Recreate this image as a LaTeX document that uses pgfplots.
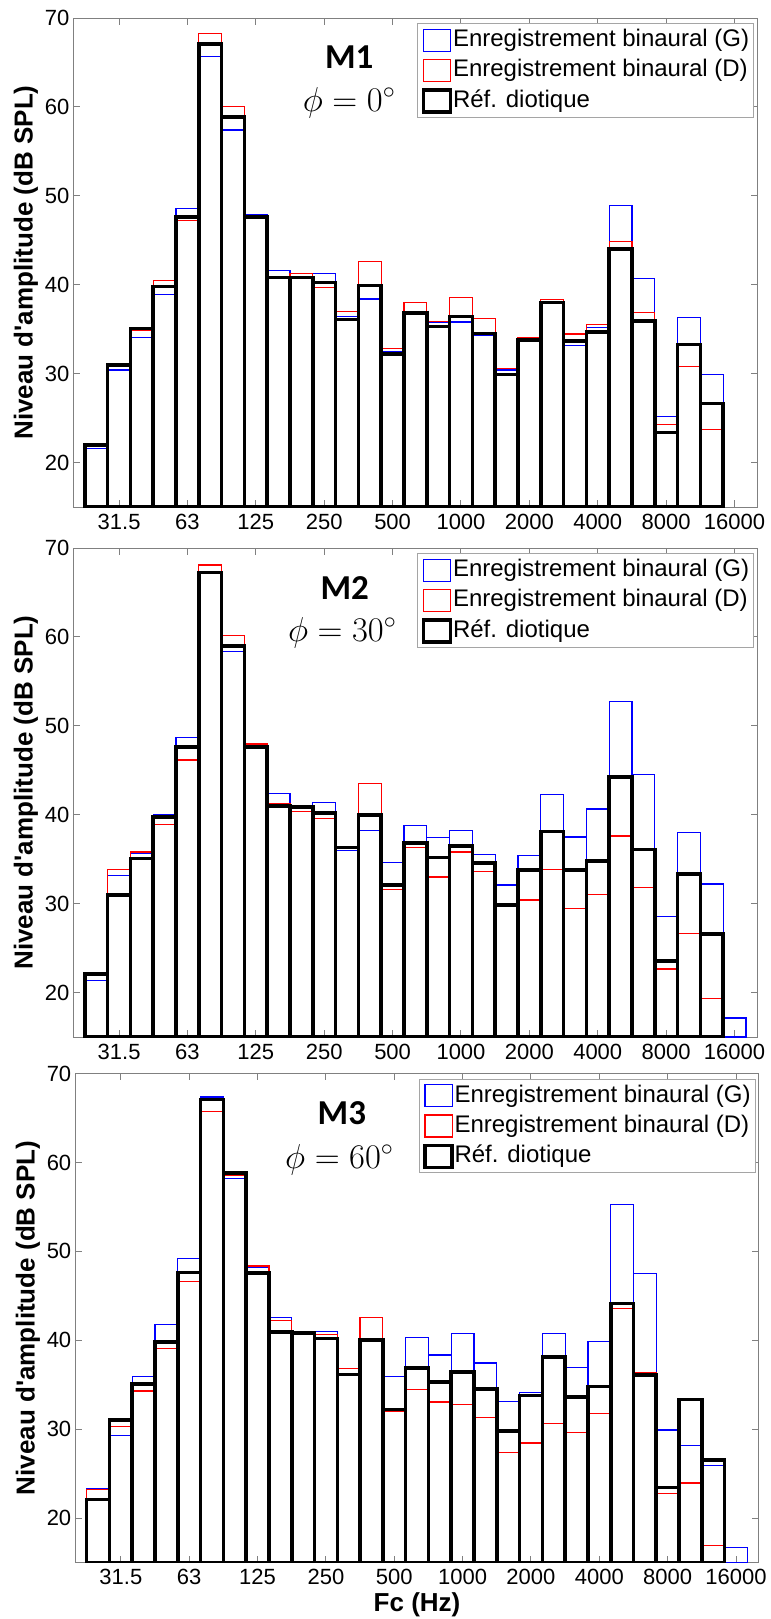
\documentclass[border=0pt]{standalone}
\usepackage{fontspec}
\setmainfont{Liberation Sans}
\newfontfamily\labfont{Liberation Sans}[Ligatures=TeXOff]
\newfontfamily\calfont{Carlito}
\usepackage{pgfplots}
\usepackage{pgfplotstable}
\pgfplotsset{compat=1.18}

\definecolor{axgray}{RGB}{128,128,128}
\definecolor{leggray}{RGB}{165,165,165}
\definecolor{mblue}{RGB}{0,0,255}
\definecolor{mred}{RGB}{255,0,0}

% third-octave bands: index 0 = 25 Hz ... 28 = 16 kHz
% G = binaural left, D = binaural right, R = diotic reference
\pgfplotstableread{
i  G      D      R
0  21.6   22.0   22.0
1  30.4   31.1   31.0
2  34.1   34.9   35.1
3  38.9   40.5   39.8
4  48.6   47.2   47.6
5  65.7   68.3   67.1
6  57.4   60.05  58.9
7  47.9   47.5   47.65
8  41.6   40.9   40.8
9  40.8   41.3   40.8
10 41.3   39.7   40.25
11 36.4   37.0   36.1
12 38.4   42.6   39.9
13 32.5   32.8   32.2
14 36.8   38.0   36.8
15 35.75  35.85  35.3
16 35.8   38.6   36.45
17 34.3   36.2   34.5
18 30.4   30.6   29.9
19 34.1   34.0   33.8
20 37.9   38.3   38.0
21 33.2   34.45  33.65
22 35.2   35.5   34.7
23 48.95  44.9   44.05
24 40.7   36.9   35.95
25 25.2   24.3   23.4
26 36.3   30.8   33.3
27 29.9   23.75  26.65
}\dataA

\pgfplotstableread{
i  G      D      R
0  21.4   22.0   22.1
1  33.2   33.8   31.0
2  35.7   35.8   35.1
3  40.05  38.9   39.75
4  48.65  46.15  47.65
5  67.2   68.1   67.25
6  58.4   60.15  58.95
7  47.85  47.95  47.65
8  42.4   41.3   41.0
9  40.7   40.35  40.85
10 41.35  39.6   40.2
11 36.0   36.2   36.3
12 38.25  43.5   40.0
13 34.6   31.6   32.1
14 38.75  36.35  36.85
15 37.4   33.0   35.2
16 38.25  35.8   36.5
17 35.55  33.6   34.55
18 32.1   29.9   29.85
19 35.4   30.4   33.8
20 42.3   33.85  38.1
21 37.5   29.45  33.8
22 40.65  31.0   34.8
23 52.75  37.6   44.25
24 44.5   31.8   36.1
25 28.6   22.65  23.55
26 38.0   26.6   33.35
27 32.2   19.3   26.6
28 17.15  nan    nan
}\dataB

\pgfplotstableread{
i  G      D      R
0  23.35  23.2   22.1
1  29.3   30.3   31.0
2  35.95  34.3   35.1
3  41.8   39.05  39.8
4  49.2   46.65  47.6
5  67.35  65.7   67.1
6  58.15  58.55  58.8
7  48.2   48.35  47.55
8  42.6   42.25  40.9
9  40.8   40.8   40.8
10 41.0   40.65  40.2
11 36.8   36.85  36.15
12 40.0   42.6   40.0
13 35.95  32.0   32.2
14 40.3   34.45  36.9
15 38.35  33.05  35.3
16 40.8   32.75  36.45
17 37.45  31.3   34.5
18 33.15  27.4   29.8
19 34.15  28.45  33.8
20 40.8   30.65  38.1
21 36.9   29.6   33.65
22 39.85  31.8   34.8
23 55.3   43.55  44.15
24 47.5   36.35  36.1
25 29.9   22.75  23.45
26 28.2   23.95  33.35
27 25.95  16.9   26.55
28 16.7   nan    nan
}\dataC

\pgfplotsset{
  panel/.style={
    scale only axis, width=341.9pt, height=244.5pt,
    xmin=-1, xmax=29, ymin=15, ymax=70,
    xtick={1,4,...,28},
    xticklabels={31.5,63,125,250,500,1000,2000,4000,8000,16000},
    ytick={20,30,...,70},
    tick align=inside, major tick length=3.3pt,
    axis line style={axgray, line width=0.5pt},
    tick style={axgray, line width=0.5pt},
    tick label style={font=\fontsize{11}{12}\selectfont, black},
    yticklabel style={xshift=1.5pt},
    /pgf/number format/assume math mode=true,
    ylabel={\labfont\bfseries Niveau d'amplitude (dB SPL)},
    ylabel style={font=\fontsize{13}{15}\selectfont, at={(axis description cs:-0.0695,0.5)}, anchor=center},
    legend cell align=left,
    legend style={at={(0.9955,0.989)}, anchor=north east, draw=leggray, line width=0.5pt,
      font=\fontsize{12}{14}\selectfont, inner xsep=2pt, inner ysep=0.5pt, row sep=0pt,
      nodes={inner xsep=0.3pt, inner ysep=1pt, text height=9.8pt, text depth=3.4pt}},
  },
  bars/.style={ybar, bar width=1, bar shift=0pt, fill=none},
  serG/.style={bars, draw=mblue, line width=0.6pt,
    legend image code/.code={\draw[mblue, line width=0.6pt] (0pt,-5.5pt) rectangle (13.5pt,5.5pt);}},
  serD/.style={bars, draw=mred, line width=0.6pt,
    legend image code/.code={\draw[mred, line width=0.6pt] (0pt,-5.5pt) rectangle (13.5pt,5.5pt);}},
  serR/.style={bars, draw=black, line width=1.8pt,
    legend image code/.code={\draw[black, line width=1.8pt] (0pt,-5.5pt) rectangle (13.5pt,5.5pt);}},
}
\newcommand{\mlab}{\calfont\bfseries\fontsize{17.5}{20}\selectfont}
\newcommand{\philab}{\fontsize{18}{21}\selectfont}

\begin{document}
\begin{tikzpicture}
\useasboundingbox (0,0) rectangle (385.5pt,-809.5pt);

\begin{axis}[panel, at={(36.75pt,-253.5pt)}, anchor=south west]
  \addplot[serG] table[x=i, y=G] {\dataA};
  \addplot[serD] table[x=i, y=D] {\dataA};
  \addplot[serR] table[x=i, y=R] {\dataA};
  \legend{Enregistrement binaural (G), Enregistrement binaural (D), Réf. diotique}
  \node[font=\mlab] at (axis cs:11.1,65.6) {M1};
  \node[font=\philab] at (axis cs:11.1,60.5) {$\phi = 0^\circ$};
\end{axis}

\begin{axis}[panel, at={(36.75pt,-518.5pt)}, anchor=south west]
  \addplot[serG] table[x=i, y=G] {\dataB};
  \addplot[serD] table[x=i, y=D] {\dataB};
  \addplot[serR] table[x=i, y=R] {\dataB};
  \legend{Enregistrement binaural (G), Enregistrement binaural (D), Réf. diotique}
  \node[font=\mlab] at (axis cs:10.9,65.5) {M2};
  \node[font=\philab] at (axis cs:10.8,60.5) {$\phi = 30^\circ$};
\end{axis}

\begin{axis}[panel, at={(37.65pt,-781.25pt)}, anchor=south west, width=341.75pt,
  xlabel={\labfont\bfseries Fc (Hz)},
  xlabel style={font=\fontsize{13}{15}\selectfont, at={(axis description cs:0.5,-0.087)}, anchor=center}]
  \addplot[serG] table[x=i, y=G] {\dataC};
  \addplot[serD] table[x=i, y=D] {\dataC};
  \addplot[serR] table[x=i, y=R] {\dataC};
  \legend{Enregistrement binaural (G), Enregistrement binaural (D), Réf. diotique}
  \node[font=\mlab] at (axis cs:10.7,65.5) {M3};
  \node[font=\philab] at (axis cs:10.6,60.3) {$\phi = 60^\circ$};
\end{axis}
\end{tikzpicture}
\end{document}
